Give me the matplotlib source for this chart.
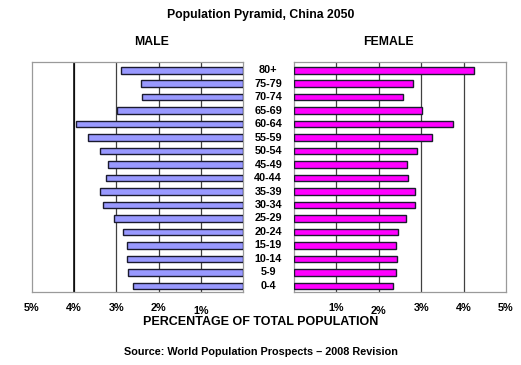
import matplotlib.pyplot as plt
import numpy as np

plt.rcParams['font.family'] = ['Liberation Sans', 'DejaVu Sans']

# age groups, youngest first
ages = ['0-4', '5-9', '10-14', '15-19', '20-24', '25-29', '30-34', '35-39',
        '40-44', '45-49', '50-54', '55-59', '60-64', '65-69', '70-74', '75-79', '80+']

# percentage of total population, China 2050
male = [2.61, 2.73, 2.76, 2.76, 2.84, 3.05, 3.32, 3.40, 3.25, 3.21,
        3.40, 3.68, 3.96, 2.98, 2.39, 2.41, 2.89]
female = [2.34, 2.41, 2.44, 2.41, 2.46, 2.63, 2.85, 2.86, 2.70, 2.66,
          2.89, 3.26, 3.76, 3.01, 2.56, 2.81, 4.25]

ticks = [1, 2, 3, 4, 5]
tick_labels = ['1%', '2%', '3%', '4%', '5%']

y = np.arange(len(ages))

fig = plt.figure(figsize=(5.21, 3.65), dpi=100)
axL = fig.add_axes([0.0614, 0.2, 0.405, 0.63])
axR = fig.add_axes([0.5643, 0.2, 0.4069, 0.63])

for ax, vals, col in [(axL, male, '#9999FF'), (axR, female, '#FF00FF')]:
    ax.barh(y, vals, height=0.5, color=col, edgecolor='#1a1a2e', linewidth=1.0, zorder=3)
    ax.set_xlim(0, 5)
    ax.set_ylim(-0.45, len(ages) - 0.4)
    for t in ticks[:-1]:
        ax.axvline(t, color='#404040', linewidth=0.9, zorder=1)
    ax.set_xticks([])
    ax.set_yticks([])
    for s in ax.spines.values():
        s.set_color('#9a9a9a')
        s.set_linewidth(0.9)

axL.invert_xaxis()
# darker line at 4% on the male side
axL.axvline(4, color='black', linewidth=1.1, zorder=2)

# tick labels below each panel
for ax in (axL, axR):
    for t, lab in zip(ticks, tick_labels):
        dy = 0
        if (ax is axL and t == 1) or (ax is axR and t == 2):
            dy = -2.2
        ax.annotate(lab, xy=(t, 0), xycoords=('data', 'axes fraction'),
                    xytext=(0, -11.5 + dy), textcoords='offset points',
                    ha='center', va='center', fontsize=7.8, fontweight='bold')

# age labels between the panels
for i, a in enumerate(ages):
    axR.annotate(a, xy=(0, i), xycoords='data', xytext=(-18.5, 0),
                 textcoords='offset points', ha='center', va='center',
                 fontsize=7.8, fontweight='bold')

fig.text(0.5, 0.959, 'Population Pyramid, China 2050', ha='center', va='center',
         fontsize=8.8, fontweight='bold')
fig.text(0.29, 0.885, 'MALE', ha='center', va='center', fontsize=8.8, fontweight='bold')
fig.text(0.745, 0.885, 'FEMALE', ha='center', va='center', fontsize=8.8, fontweight='bold')
fig.text(0.5, 0.118, 'PERCENTAGE OF TOTAL POPULATION', ha='center', va='center',
         fontsize=9, fontweight='bold')
fig.text(0.5, 0.036, 'Source: World Population Prospects \u2013 2008 Revision',
         ha='center', va='center', fontsize=7.8, fontweight='bold')

fig.savefig('out.png', dpi=100)
